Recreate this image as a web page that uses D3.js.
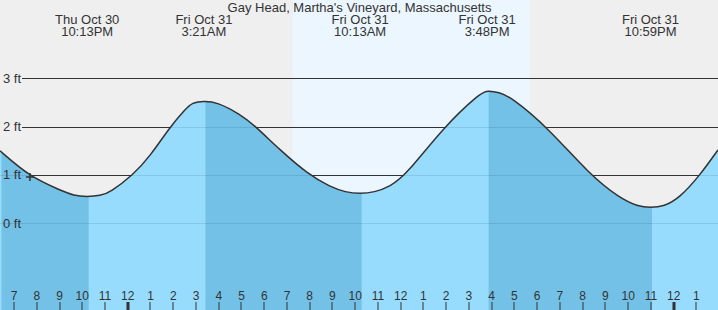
<!DOCTYPE html>
<html>
<head>
<meta charset="utf-8">
<script src="https://cdn.jsdelivr.net/npm/d3@7"></script>
<style>
  body { margin: 0; background: #efefef; }
  svg { display: block; font-family: "Liberation Sans", Arial, sans-serif; }
</style>
</head>
<body>
<div id="tide-area"></div>
<script>
// tide heights (ft)
var readTimes = ["2025-10-30 18:23","2025-10-30 19:42","2025-10-30 21:01","2025-10-30 21:38","2025-10-30 22:48","2025-10-30 23:13",
  "2025-10-31 00:14","2025-10-31 00:59","2025-10-31 01:52","2025-10-31 02:31","2025-10-31 02:50","2025-10-31 03:55",
  "2025-10-31 04:56","2025-10-31 05:38","2025-10-31 06:41","2025-10-31 07:58","2025-10-31 08:53","2025-10-31 09:35",
  "2025-10-31 10:50","2025-10-31 11:32","2025-10-31 12:14","2025-10-31 13:54","2025-10-31 15:29","2025-10-31 16:20",
  "2025-10-31 16:49","2025-10-31 18:26","2025-10-31 20:19","2025-10-31 21:38","2025-10-31 22:25","2025-10-31 23:35",
  "2025-11-01 00:15","2025-11-01 01:10","2025-11-01 01:57"];
var readFeet = [1.50, 0.96, 0.69, 0.57, 0.57, 0.64,
  1.00, 1.39, 2.00, 2.35, 2.50, 2.51,
  2.26, 2.00, 1.52, 1.00, 0.76, 0.64,
  0.64, 0.76, 1.00, 2.00, 2.69, 2.71,
  2.62, 2.00, 1.00, 0.52, 0.35, 0.35,
  0.52, 1.00, 1.52];

// highs and lows
var extremeTimes = ["2025-10-30 22:13","2025-10-31 03:21","2025-10-31 10:13","2025-10-31 15:48","2025-10-31 22:59"];
var extremeFeet = [0.55, 2.53, 0.61, 2.75, 0.32];
var extremeType = ["L","H","L","H","L"];

var sunTimes = ["2025-10-31 07:15","2025-10-31 17:41"];
var nowTime = "2025-10-30 19:42";
var gridFeet = [0, 1, 2, 3];
var title = "Gay Head, Martha's Vineyard, Massachusetts";

var W = 718, H = 310;
var parse = d3.timeParse("%Y-%m-%d %H:%M");

var series = readTimes.map(function (t, i) { return { t: parse(t), v: readFeet[i] }; });
var extremes = extremeTimes.map(function (t, i) { return { t: parse(t), v: extremeFeet[i], type: extremeType[i] }; });
series = series.concat(extremes).sort(function (a, b) { return a.t - b.t; });

var x = d3.scaleTime()
  .domain([parse("2025-10-30 18:23"), parse("2025-11-01 01:57")])
  .range([0, W]);
var y = d3.scaleLinear().domain([0, 3]).range([223.3, 78.3]);

var svg = d3.select("#tide-area").append("svg").attr("width", W).attr("height", H);

svg.append("rect").attr("width", W).attr("height", H).attr("fill", "#efefef");
svg.append("rect")
  .attr("x", x(parse(sunTimes[0]))).attr("y", 0)
  .attr("width", x(parse(sunTimes[1])) - x(parse(sunTimes[0]))).attr("height", H)
  .attr("fill", "#ecf6fe");

// grid lines (behind the water)
svg.selectAll(".grid").data(gridFeet).enter().append("line")
  .attr("x1", 22).attr("x2", W)
  .attr("y1", function (d) { return Math.round(y(d)) + 0.5; })
  .attr("y2", function (d) { return Math.round(y(d)) + 0.5; })
  .attr("stroke", "#333").attr("stroke-width", 1);

var curve = d3.curveBasis;
var area = d3.area().curve(curve)
  .x(function (d) { return x(d.t); })
  .y0(H)
  .y1(function (d) { return y(d.v); });
var line = d3.line().curve(curve)
  .x(function (d) { return x(d.t); })
  .y(function (d) { return y(d.v); });

svg.append("clipPath").attr("id", "water")
  .append("path").attr("d", area(series));

var water = svg.append("g").attr("clip-path", "url(#water)");
water.append("rect").attr("width", W).attr("height", H).attr("fill", "#97dcfc");

// falling tide (high -> low) is darker
var falling = [];
var start = x.domain()[0];
extremes.forEach(function (e) {
  if (e.type == "H") start = e.t;
  else { if (start) falling.push([start, e.t]); start = null; }
});
if (start) falling.push([start, x.domain()[1]]);

water.selectAll(".fall").data(falling).enter().append("rect")
  .attr("x", function (d) { return x(d[0]) + 1.5; })
  .attr("width", function (d) { return x(d[1]) - x(d[0]); })
  .attr("y", 0).attr("height", H)
  .attr("fill", "#73c1e6");

water.selectAll(".gridw").data(gridFeet).enter().append("line")
  .attr("x1", 0).attr("x2", W)
  .attr("y1", function (d) { return Math.round(y(d)) + 0.5; })
  .attr("y2", function (d) { return Math.round(y(d)) + 0.5; })
  .attr("stroke", "rgba(0,50,90,0.12)");

svg.append("path").attr("d", line(series))
  .attr("fill", "none").attr("stroke", "#333").attr("stroke-width", 1.5);

svg.selectAll(".glabel").data(gridFeet).enter().append("text")
  .attr("x", 3).attr("y", function (d) { return y(d) + 4.5; })
  .attr("font-size", 13).attr("fill", "#333")
  .text(function (d) { return d + " ft"; });

// hour ticks
var hours = x.ticks(d3.timeHour.every(1));
var hourFmt = d3.timeFormat("%-I");
svg.selectAll(".tick").data(hours).enter().append("rect")
  .attr("x", function (d) { return Math.round(x(d)) - (d.getHours() == 0 ? 1.5 : 0.5); })
  .attr("width", function (d) { return d.getHours() == 0 ? 3 : 1; })
  .attr("y", 302).attr("height", 8)
  .attr("fill", "#333");
svg.selectAll(".hlabel").data(hours).enter().append("text")
  .attr("x", function (d) { return x(d); }).attr("y", 300)
  .attr("text-anchor", "middle").attr("font-size", 12).attr("fill", "#333")
  .text(function (d) { return hourFmt(d); });

// title and extreme labels
svg.append("text").attr("x", 359.5).attr("y", 12)
  .attr("text-anchor", "middle").attr("font-size", 13).attr("fill", "#333")
  .text(title);
var dayFmt = d3.timeFormat("%a %b %d"), clockFmt = d3.timeFormat("%-I:%M%p");
var lab = svg.selectAll(".ext").data(extremes).enter().append("g");
lab.append("text").attr("x", function (d) { return x(d.t); }).attr("y", 24)
  .attr("text-anchor", "middle").attr("font-size", 13).attr("fill", "#333")
  .text(function (d) { return dayFmt(d.t); });
lab.append("text").attr("x", function (d) { return x(d.t); }).attr("y", 36)
  .attr("text-anchor", "middle").attr("font-size", 13).attr("fill", "#333")
  .text(function (d) { return clockFmt(d.t); });

// current time marker
var now = parse(nowTime);
var nowV = d3.scaleTime().domain(series.map(function (d) { return d.t; })).range(series.map(function (d) { return d.v; }))(now);
var nx = x(now), ny = y(nowV);
svg.append("path")
  .attr("d", "M" + (nx - 4) + "," + ny + "H" + (nx + 4) + "M" + nx + "," + (ny - 4) + "V" + (ny + 4))
  .attr("stroke", "#333").attr("stroke-width", 1.5);
</script>
</body>
</html>
